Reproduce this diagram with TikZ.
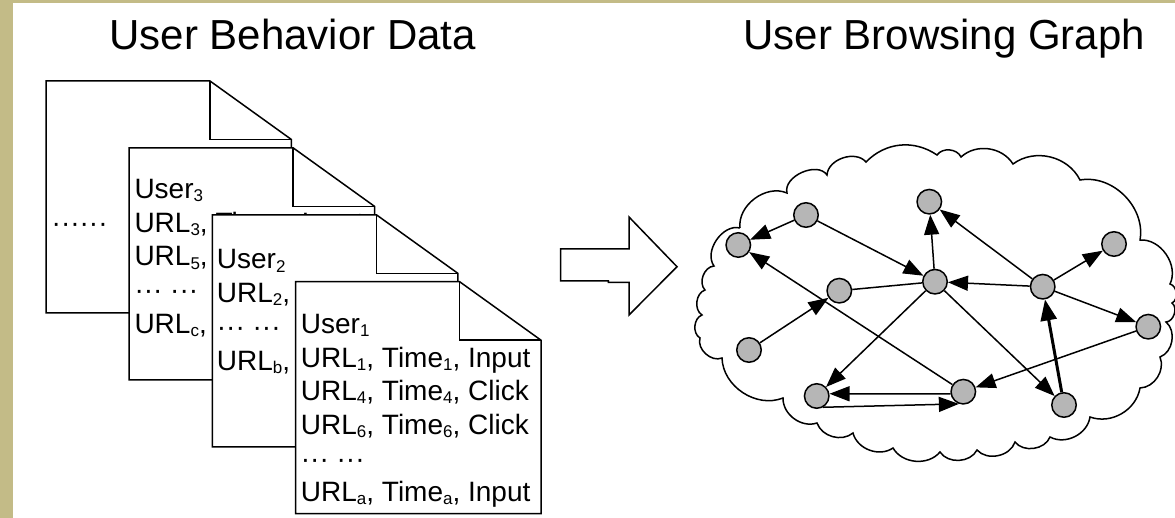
\documentclass[tikz,border=0pt]{standalone}
\usepackage{fontspec}
\setmainfont{Liberation Sans}
\usetikzlibrary{arrows.meta}

\definecolor{frameolive}{RGB}{195,187,135}
\definecolor{nodegray}{RGB}{182,182,182}

% small lowered index used in the log entries
\newcommand\sbs[1]{\raisebox{-0.11em}{\fontsize{17}{17}\selectfont #1}}

% one log sheet with a folded top-right corner: #1 = left, #2 = top
\newcommand\logsheet[2]{%
  \filldraw[outline, fill=white] (#1,#2) -- ++(164,0) -- ++(81.4,58.5)
    -- ++(0,173.5) -- ++(-245.4,0) -- cycle;
  \draw[outline] (#1+164,#2) -- ++(0,58.5) -- ++(81.4,0);
}

\begin{document}
\begin{tikzpicture}[x=1pt,y=-1pt,
  outline/.style={line width=1.5pt, line join=miter, draw=black},
  doctext/.style={anchor=base west, inner sep=0pt, font=\fontsize{28}{33}\selectfont},
  titletext/.style={anchor=base west, inner sep=0pt, font=\fontsize{42}{50}\selectfont},
  vertex/.style={circle, draw=black, line width=1.5pt, fill=nodegray,
    minimum size=24.5pt, inner sep=0pt},
  link/.style={line width=1.5pt, -{Triangle[length=20pt,width=15pt]}},
  plainlink/.style={line width=1.5pt},
  strong/.style={line width=3pt, -{Triangle[length=21pt,width=16pt]}},
]
\useasboundingbox (0,0) rectangle (1175,518);
\clip (0,0) rectangle (1175,518);

% page background and frame bands
\fill[white] (0,0) rectangle (1175,518);
\fill[frameolive] (0,0) rectangle (1175,3.5);
\fill[frameolive] (0,0) rectangle (12.7,518);

% headings
\node[titletext] (hleft) at (109.3,50) {User Behavior Data};
\node[titletext] (hright) at (743.3,50) {User Browsing Graph};

% stacked log sheets, back to front
\logsheet{46}{81}
\node[doctext] (dA) at (51.5,232.6) {······};

\logsheet{129.2}{147.9}
\node[doctext] (b1) at (134.3,198.6) {User\sbs{3}};
\node[doctext] (b2) at (134.3,232.3) {URL\sbs{3}, Time\sbs{3}, Input};
\node[doctext] (b3) at (134.3,266.0) {URL\sbs{5}, Time\sbs{5}, Click};
\node[doctext] (b4) at (134.3,299.7) {··· ···};
\node[doctext] (b5) at (134.3,333.4) {URL\sbs{c}, Time\sbs{c}, Input};

\logsheet{212.4}{214.8}
\node[doctext] (c1) at (216.7,269.0) {User\sbs{2}};
\node[doctext] (c2) at (216.7,302.7) {URL\sbs{2}, Time\sbs{2}, Input};
\node[doctext] (c3) at (216.7,336.4) {··· ···};
\node[doctext] (c4) at (216.7,370.1) {URL\sbs{b}, Time\sbs{b}, Click};

\logsheet{295.6}{281.7}
\node[doctext] (d1) at (300.7,333.3) {User\sbs{1}};
\node[doctext] (d2) at (300.7,367.0) {URL\sbs{1}, Time\sbs{1}, Input};
\node[doctext] (d3) at (300.7,400.7) {URL\sbs{4}, Time\sbs{4}, Click};
\node[doctext] (d4) at (300.7,434.4) {URL\sbs{6}, Time\sbs{6}, Click};
\node[doctext] (d5) at (300.7,468.1) {··· ···};
\node[doctext] (d6) at (300.7,501.8) {URL\sbs{a}, Time\sbs{a}, Input};

% block arrow between the two parts
\filldraw[outline, fill=white] (560.7,249) -- (629,249) -- (629,217) -- (677,266.7)
  -- (629,315) -- (629,282.3) -- (608.3,282.3) -- (608.3,281) -- (560.7,281) -- cycle;

% cloud outline around the graph
\draw[line width=1.5pt] (740,228)
  to[bend left=60] (787,193)
  to[bend left=80] (827,175)
  to[bend left=68] (866,162)
  to[bend left=40] (937,155)
  to[bend left=60] (961,157)
  to[bend left=50] (1013,164)
  to[bend left=50] (1080,180)
  to[bend left=55] (1140,240)
  to[bend left=60] (1170,284)
  to[bend left=70] (1172,303)
  to[bend left=70] (1166,322)
  to[bend left=60] (1160,357)
  to[bend left=55] (1140,388)
  to[bend left=50] (1090,417)
  to[bend left=55] (1050,437)
  to[bend left=60] (1015,442)
  to[bend left=60] (977,450)
  to[bend left=60] (940,452)
  to[bend left=55] (893,448)
  to[bend left=55] (853,433)
  to[bend left=55] (817,423)
  to[bend left=55] (783,398)
  to[bend left=55] (722,358)
  to[bend left=65] (700,338)
  to[bend left=65] (702,315)
  to[bend left=65] (705,290)
  to[bend left=65] (714,266)
  to[bend left=70] (740,228);

% graph vertices
\node[vertex] (A) at (738.3,245) {};
\node[vertex] (B) at (806,215) {};
\node[vertex] (C) at (929.3,201.7) {};
\node[vertex] (D) at (935,281.7) {};
\node[vertex] (E) at (839.3,290.7) {};
\node[vertex] (F) at (749,350) {};
\node[vertex] (G) at (816.7,396) {};
\node[vertex] (H) at (963.3,391.7) {};
\node[vertex] (I) at (1042.7,286.7) {};
\node[vertex] (J) at (1114,244) {};
\node[vertex] (K) at (1148.3,326.7) {};
\node[vertex] (L) at (1064,405) {};

% browsing transitions
\draw[link] (B) -- (A);
\draw[link] (B) -- (D);
\draw[link] (D) -- (C);
\draw[link] (I) -- (C);
\draw[link] (I) -- (D);
\draw[plainlink] (E) -- (D);
\draw[link] (F) -- (E);
\draw[link] (H) -- (A);
\draw[link] (D) -- (G);
\draw[link] (H.190) -- (G.10);
\draw[link] (G.-60) -- (H.-110);
\draw[link] (D) -- (L);
\draw[strong] (L) -- (I);
\draw[link] (I) -- (J);
\draw[link] (I) -- (K);
\draw[link] (K) -- (H);
\end{tikzpicture}
\end{document}
